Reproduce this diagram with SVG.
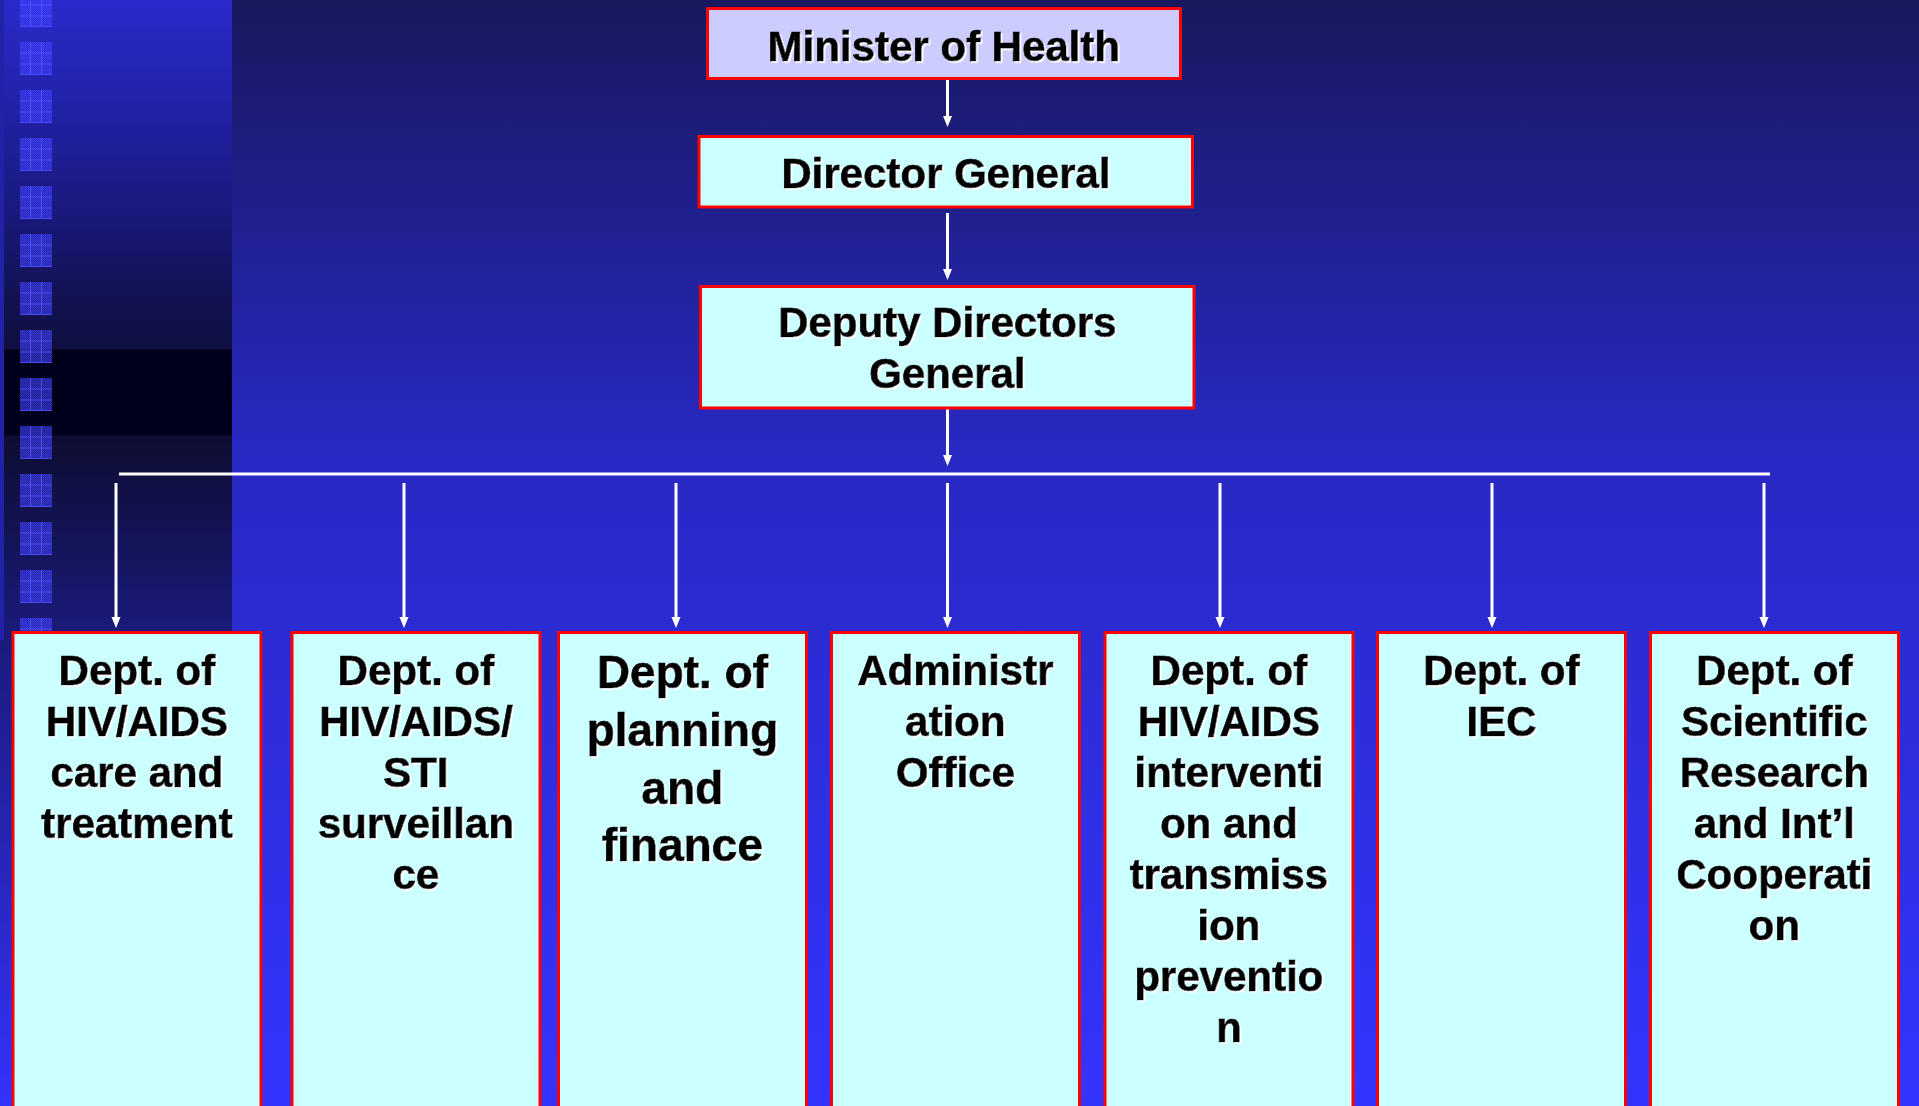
<svg xmlns="http://www.w3.org/2000/svg" width="1919" height="1106" viewBox="0 0 1919 1106">
  <defs>
    <linearGradient id="bgGrad" x1="0" y1="0" x2="0" y2="1">
      <stop offset="0" stop-color="#18185e"/>
      <stop offset="0.4" stop-color="#2828c2"/>
      <stop offset="1" stop-color="#3434ff"/>
    </linearGradient>
    <linearGradient id="stripGrad" x1="0" y1="0" x2="0" y2="1106" gradientUnits="userSpaceOnUse">
      <stop offset="0" stop-color="#2a2acb"/>
      <stop offset="0.09" stop-color="#2222aa"/>
      <stop offset="0.18" stop-color="#1a1a82"/>
      <stop offset="0.27" stop-color="#121252"/>
      <stop offset="0.315" stop-color="#0f0f40"/>
      <stop offset="0.317" stop-color="#00001c"/>
      <stop offset="0.393" stop-color="#00001c"/>
      <stop offset="0.394" stop-color="#0d0d32"/>
      <stop offset="0.57" stop-color="#1a1a7a"/>
      <stop offset="1" stop-color="#3333ff"/>
    </linearGradient>
    <pattern id="checker" width="2" height="2" patternUnits="userSpaceOnUse">
      <rect width="1" height="1" fill="#5a5aff" fill-opacity="0.25"/>
      <rect x="1" y="1" width="1" height="1" fill="#5a5aff" fill-opacity="0.25"/>
    </pattern>
    <g id="sq">
      <rect x="0" y="0" width="32" height="33" fill="#3a3aff" fill-opacity="0.55"/>
      <rect x="0" y="0" width="32" height="33" fill="url(#checker)"/>
      <path d="M10.5 0V33M21.5 0V33M0 11H32M0 22H32" stroke="#5a5aff" stroke-opacity="0.7" stroke-width="1" fill="none"/>
      <path d="M0 32.5H32" stroke="#4a4aff" stroke-width="1"/>
    </g>
    <marker id="ah" markerUnits="userSpaceOnUse" markerWidth="12" markerHeight="10" refX="3" refY="4.5" orient="auto">
      <path d="M0,0 L11,4.5 L0,9 z" fill="#ffffff"/>
    </marker>
    <filter id="shadow" x="-5%" y="-5%" width="110%" height="110%">
      <feDropShadow dx="1.6" dy="1.6" stdDeviation="0.3" flood-color="#ffffff" flood-opacity="1"/>
    </filter>
    <style>
      .box { fill: #ccffff; stroke: #ff0000; stroke-width: 3; }
      .top { fill: #ccccff; }
      .lbl { font-family: "Liberation Sans", Arial, sans-serif; font-weight: bold; font-size: 42px; fill: #000000; stroke: #000000; stroke-width: 0.7px; text-anchor: middle; filter: url(#shadow); }
      .big { font-size: 46px; }
      .conn { stroke: #ffffff; stroke-width: 3; fill: none; }
    </style>
  </defs>

  <!-- background -->
  <rect x="0" y="0" width="1919" height="1106" fill="url(#bgGrad)"/>
  <rect x="0" y="0" width="232" height="1106" fill="url(#stripGrad)"/>
  <rect x="0" y="0" width="4" height="640" fill="#2222a8"/>
  <g id="squares">
    <use href="#sq" x="20" y="-6"/>
    <use href="#sq" x="20" y="42"/>
    <use href="#sq" x="20" y="90"/>
    <use href="#sq" x="20" y="138"/>
    <use href="#sq" x="20" y="186"/>
    <use href="#sq" x="20" y="234"/>
    <use href="#sq" x="20" y="282"/>
    <use href="#sq" x="20" y="330"/>
    <use href="#sq" x="20" y="378"/>
    <use href="#sq" x="20" y="426"/>
    <use href="#sq" x="20" y="474"/>
    <use href="#sq" x="20" y="522"/>
    <use href="#sq" x="20" y="570"/>
    <use href="#sq" x="20" y="618"/>
  </g>

  <!-- connectors -->
  <g id="connectors">
    <line class="conn" x1="947.5" y1="80" x2="947.5" y2="119" marker-end="url(#ah)"/>
    <line class="conn" x1="947.5" y1="213" x2="947.5" y2="272" marker-end="url(#ah)"/>
    <line class="conn" x1="947.5" y1="400" x2="947.5" y2="458" marker-end="url(#ah)"/>
    <line class="conn" x1="119" y1="474" x2="1770" y2="474"/>
    <line class="conn" x1="116" y1="483" x2="116" y2="620" marker-end="url(#ah)"/>
    <line class="conn" x1="404" y1="483" x2="404" y2="620" marker-end="url(#ah)"/>
    <line class="conn" x1="676" y1="483" x2="676" y2="620" marker-end="url(#ah)"/>
    <line class="conn" x1="947.5" y1="483" x2="947.5" y2="620" marker-end="url(#ah)"/>
    <line class="conn" x1="1220" y1="483" x2="1220" y2="620" marker-end="url(#ah)"/>
    <line class="conn" x1="1492" y1="483" x2="1492" y2="620" marker-end="url(#ah)"/>
    <line class="conn" x1="1764" y1="483" x2="1764" y2="620" marker-end="url(#ah)"/>
  </g>

  <!-- top nodes -->
  <g id="minister">
    <rect class="box top" x="707.5" y="8.5" width="473" height="70"/>
    <text class="lbl" x="944" y="61">Minister of Health</text>
  </g>
  <g id="director-general">
    <rect class="box" x="699" y="136.5" width="493.5" height="70.5"/>
    <text class="lbl" x="946" y="188">Director General</text>
  </g>
  <g id="deputy-directors">
    <rect class="box" x="700.5" y="286.5" width="493.5" height="121.5"/>
    <text class="lbl"><tspan x="947.5" y="337">Deputy Directors</tspan><tspan x="947.5" y="388">General</tspan></text>
  </g>

  <!-- departments -->
  <g id="dept-care">
    <rect class="box" x="13" y="632.5" width="248" height="600"/>
    <text class="lbl"><tspan x="137" y="685">Dept. of</tspan><tspan x="137" y="736">HIV/AIDS</tspan><tspan x="137" y="787">care and</tspan><tspan x="137" y="838">treatment</tspan></text>
  </g>
  <g id="dept-surveillance">
    <rect class="box" x="292" y="632.5" width="248" height="600"/>
    <text class="lbl"><tspan x="416" y="685">Dept. of</tspan><tspan x="416" y="736">HIV/AIDS/</tspan><tspan x="416" y="787">STI</tspan><tspan x="416" y="838">surveillan</tspan><tspan x="416" y="889">ce</tspan></text>
  </g>
  <g id="dept-planning">
    <rect class="box" x="558.5" y="632.5" width="248" height="600"/>
    <text class="lbl big"><tspan x="682.5" y="688">Dept. of</tspan><tspan x="682.5" y="746">planning</tspan><tspan x="682.5" y="804">and</tspan><tspan x="682.5" y="861">finance</tspan></text>
  </g>
  <g id="admin-office">
    <rect class="box" x="831.5" y="632.5" width="248" height="600"/>
    <text class="lbl"><tspan x="955.5" y="685">Administr</tspan><tspan x="955.5" y="736">ation</tspan><tspan x="955.5" y="787">Office</tspan></text>
  </g>
  <g id="dept-prevention">
    <rect class="box" x="1105" y="632.5" width="248" height="600"/>
    <text class="lbl"><tspan x="1229" y="685">Dept. of</tspan><tspan x="1229" y="736">HIV/AIDS</tspan><tspan x="1229" y="787">interventi</tspan><tspan x="1229" y="838">on and</tspan><tspan x="1229" y="889">transmiss</tspan><tspan x="1229" y="940">ion</tspan><tspan x="1229" y="991">preventio</tspan><tspan x="1229" y="1042">n</tspan></text>
  </g>
  <g id="dept-iec">
    <rect class="box" x="1377.5" y="632.5" width="248" height="600"/>
    <text class="lbl"><tspan x="1501.5" y="685">Dept. of</tspan><tspan x="1501.5" y="736">IEC</tspan></text>
  </g>
  <g id="dept-research">
    <rect class="box" x="1650.5" y="632.5" width="248" height="600"/>
    <text class="lbl"><tspan x="1774.5" y="685">Dept. of</tspan><tspan x="1774.5" y="736">Scientific</tspan><tspan x="1774.5" y="787">Research</tspan><tspan x="1774.5" y="838">and Int’l</tspan><tspan x="1774.5" y="889">Cooperati</tspan><tspan x="1774.5" y="940">on</tspan></text>
  </g>
</svg>
